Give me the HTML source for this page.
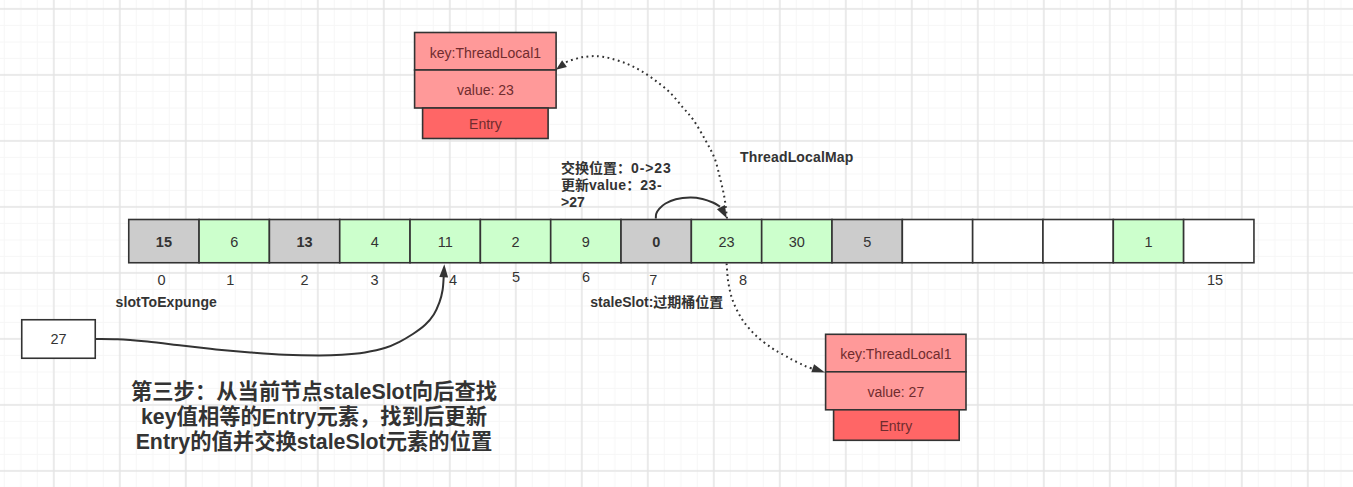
<!DOCTYPE html>
<html lang="zh"><head><meta charset="utf-8"><title>ThreadLocalMap</title>
<style>
html,body{margin:0;padding:0;background:#fff;}
body{width:1353px;height:487px;overflow:hidden;position:relative;}
svg{position:absolute;left:0;top:0;display:block;}
text{font-family:"Liberation Sans","Noto Sans CJK SC",sans-serif;fill:#333;}
.b{font-weight:bold;}
.n{font-size:14.5px;text-anchor:middle;}
.e{font-size:14px;text-anchor:middle;}
.red{fill:#702c2e;}
</style></head><body>
<svg width="1353" height="487" viewBox="0 0 1353 487">
<defs>
<pattern id="grid" x="52.8" y="7.9" width="66" height="66" patternUnits="userSpaceOnUse">
<path d="M17.5 0V66M34 0V66M50.5 0V66M0 17.5H66M0 34H66M0 50.5H66" stroke="#f6f6f6" stroke-width="1" fill="none"/>
<path d="M1 0V66M0 1H66" stroke="#e4e4e4" stroke-width="1.5" fill="none"/>
</pattern>
</defs>
<rect width="1353" height="487" fill="#fff"/>
<rect width="1353" height="487" fill="url(#grid)"/>

<g stroke="#333333" stroke-width="1.6">
<rect x="128.75" y="219.50" width="70.33" height="43.25" fill="#cccccc"/>
<rect x="199.07" y="219.50" width="70.33" height="43.25" fill="#ccffcc"/>
<rect x="269.40" y="219.50" width="70.33" height="43.25" fill="#cccccc"/>
<rect x="339.73" y="219.50" width="70.33" height="43.25" fill="#ccffcc"/>
<rect x="410.05" y="219.50" width="70.33" height="43.25" fill="#ccffcc"/>
<rect x="480.38" y="219.50" width="70.33" height="43.25" fill="#ccffcc"/>
<rect x="550.70" y="219.50" width="70.33" height="43.25" fill="#ccffcc"/>
<rect x="621.03" y="219.50" width="70.33" height="43.25" fill="#cccccc"/>
<rect x="691.35" y="219.50" width="70.33" height="43.25" fill="#ccffcc"/>
<rect x="761.68" y="219.50" width="70.33" height="43.25" fill="#ccffcc"/>
<rect x="832.00" y="219.50" width="70.33" height="43.25" fill="#cccccc"/>
<rect x="902.33" y="219.50" width="70.33" height="43.25" fill="#ffffff"/>
<rect x="972.65" y="219.50" width="70.33" height="43.25" fill="#ffffff"/>
<rect x="1042.97" y="219.50" width="70.33" height="43.25" fill="#ffffff"/>
<rect x="1113.30" y="219.50" width="70.33" height="43.25" fill="#ccffcc"/>
<rect x="1183.62" y="219.50" width="70.33" height="43.25" fill="#ffffff"/>
</g>
<text class="n b" x="163.9" y="246.6">15</text>
<text class="n" x="234.2" y="246.6">6</text>
<text class="n b" x="304.6" y="246.6">13</text>
<text class="n" x="374.9" y="246.6">4</text>
<text class="n" x="445.2" y="246.6">11</text>
<text class="n" x="515.5" y="246.6">2</text>
<text class="n" x="585.9" y="246.6">9</text>
<text class="n b" x="656.2" y="246.6">0</text>
<text class="n" x="726.5" y="246.6">23</text>
<text class="n" x="796.8" y="246.6">30</text>
<text class="n" x="867.2" y="246.6">5</text>
<text class="n" x="1148.5" y="246.6">1</text>
<text class="n" x="161.6" y="285.2">0</text>
<text class="n" x="230.4" y="285.2">1</text>
<text class="n" x="304.5" y="285.2">2</text>
<text class="n" x="374.5" y="285.2">3</text>
<text class="n" x="453.0" y="285.2">4</text>
<text class="n" x="516.0" y="282.2">5</text>
<text class="n" x="586.0" y="282.4">6</text>
<text class="n" x="653.3" y="285.2">7</text>
<text class="n" x="743.0" y="285.2">8</text>
<text class="n" x="1215.0" y="285.2">15</text>
<text class="b" font-size="14" x="115.6" y="307.2" letter-spacing="0.1">slotToExpunge</text>
<text class="b" font-size="14" x="590.3" y="306.5">staleSlot:过期桶位置</text>
<text class="b" font-size="14" x="740" y="162" letter-spacing="0.16">ThreadLocalMap</text>
<text class="b" font-size="14" x="561" y="173">交换位置：<tspan letter-spacing="0.9">0-&gt;23</tspan></text>
<text class="b" font-size="14" x="561" y="189.7">更新<tspan letter-spacing="0.3">value</tspan>：<tspan letter-spacing="0.5">23-</tspan></text>
<text class="b" font-size="14" x="561" y="206.5">&gt;27</text>
<g stroke="#333333" stroke-width="1.6">
<rect x="414.60" y="32.50" width="141.50" height="37.5" fill="#ff9999"/>
<rect x="414.60" y="70.00" width="141.50" height="38" fill="#ff9999"/>
<rect x="422.60" y="108.00" width="125.50" height="30.5" fill="#ff6666"/>
</g>
<text class="e red" x="485.4" y="57.8">key:ThreadLocal1</text>
<text class="e red" x="485.4" y="95.0">value: 23</text>
<text class="e red" x="485.4" y="128.5">Entry</text>
<g stroke="#333333" stroke-width="1.6">
<rect x="825.60" y="334.30" width="140.40" height="37.5" fill="#ff9999"/>
<rect x="825.60" y="371.80" width="140.40" height="38" fill="#ff9999"/>
<rect x="833.60" y="409.80" width="125.60" height="30.5" fill="#ff6666"/>
</g>
<text class="e red" x="895.8" y="358.9">key:ThreadLocal1</text>
<text class="e red" x="895.8" y="396.8">value: 27</text>
<text class="e red" x="895.8" y="430.8">Entry</text>
<rect x="21.75" y="319.75" width="73.5" height="38.5" fill="#fff" stroke="#333333" stroke-width="1.6"/>
<text class="n" x="58.5" y="344">27</text>
<text class="b" font-size="21.33" text-anchor="middle" x="314" y="399.0">第三步：从当前节点staleSlot向后查找</text>
<text class="b" font-size="21.33" text-anchor="middle" x="314" y="424.2">key值相等的Entry元素，找到后更新</text>
<text class="b" font-size="21.33" text-anchor="middle" x="314" y="448.8">Entry的值并交换staleSlot元素的位置</text>
<path d="M727.0 218.5 C726.6 215.3 725.8 205.7 724.7 199.1 C723.6 192.5 721.9 185.6 720.2 178.8 C718.5 172.0 717.1 164.8 714.6 158.4 C712.1 152.0 709.0 146.7 705.5 140.3 C702.0 133.9 697.2 125.5 693.4 120.0 C689.6 114.5 686.4 111.7 682.7 107.3 C679.0 102.9 675.2 97.8 671.0 93.6 C666.8 89.4 662.2 85.7 657.3 82.0 C652.4 78.3 646.9 74.3 641.7 71.2 C636.5 68.1 631.5 65.6 626.0 63.4 C620.5 61.2 612.8 59.0 608.5 57.9 C604.2 56.8 602.7 56.8 600.5 56.5 C598.3 56.2 596.9 56.1 595.1 56.1 C593.3 56.1 591.6 56.2 589.8 56.3 C588.0 56.4 586.1 56.7 584.4 56.9 C582.7 57.1 581.2 57.3 579.5 57.7 C577.8 58.1 576.0 58.9 574.2 59.4 C572.4 59.9 570.3 60.4 568.8 61.0 C567.3 61.6 565.6 62.5 565.0 62.8" fill="none" stroke="#333333" stroke-width="2" stroke-dasharray="1.8 3.5"/>
<path d="M556.0 69.7 L562.1 60.3 L566.9 67.1 Z" fill="#333333"/>
<path d="M726.6 263.5 C726.9 266.5 727.2 275.6 728.2 281.7 C729.2 287.8 730.4 294.2 732.7 300.4 C735.0 306.6 738.2 313.3 742.0 319.1 C745.8 324.9 750.5 330.3 755.4 335.1 C760.3 339.9 766.8 344.5 771.5 347.8 C776.2 351.1 780.2 352.9 783.7 354.9 C787.2 356.9 789.6 358.4 792.7 360.0 C795.8 361.6 799.8 363.5 802.2 364.6 C804.6 365.7 805.2 366.1 807.0 366.8 C808.8 367.5 812.0 368.6 813.0 369.0" fill="none" stroke="#333333" stroke-width="2" stroke-dasharray="1.8 3.5"/>
<path d="M825.0 372.6 L811.3 372.3 L814.1 364.3 Z" fill="#333333"/>
<path d="M655.8 218.5 C655.9 217.7 655.7 215.3 656.3 213.7 C656.9 212.0 657.9 210.3 659.4 208.6 C660.9 206.9 662.8 205.1 665.5 203.5 C668.2 201.9 671.7 200.2 675.8 199.2 C679.9 198.2 685.8 197.6 690.2 197.5 C694.7 197.4 698.7 198.1 702.5 198.9 C706.3 199.7 709.9 201.2 712.8 202.5 C715.7 203.8 718.8 205.9 720.0 206.6" fill="none" stroke="#333333" stroke-width="2"/>
<path d="M726.8 218.3 L716.9 209.2 L724.9 205.1 Z" fill="#333333"/>
<path d="M95.5 339.0 C99.2 339.1 108.9 338.9 117.5 339.3 C126.1 339.7 136.6 340.6 147.3 341.6 C158.0 342.6 170.2 344.2 181.6 345.5 C193.0 346.8 204.5 348.2 216.0 349.4 C227.5 350.5 239.0 351.5 250.4 352.4 C261.9 353.3 273.2 354.2 284.7 354.7 C296.1 355.2 309.6 355.4 319.1 355.4 C328.7 355.4 334.4 355.2 342.0 354.7 C349.6 354.2 357.6 353.5 364.9 352.4 C372.1 351.2 379.7 349.6 385.5 347.8 C391.3 346.0 394.9 344.1 399.5 341.8 C404.1 339.5 408.6 336.8 412.9 334.0 C417.2 331.2 421.7 328.1 425.2 324.8 C428.7 321.6 431.4 318.3 433.8 314.5 C436.2 310.7 438.0 306.3 439.5 302.2 C441.0 298.1 441.9 294.2 442.6 290.0 C443.3 285.8 443.5 279.2 443.7 277.0" fill="none" stroke="#333333" stroke-width="2"/>
<path d="M444.3 264.2 L448.1 277.4 L439.3 277.0 Z" fill="#333333"/>
</svg></body></html>
